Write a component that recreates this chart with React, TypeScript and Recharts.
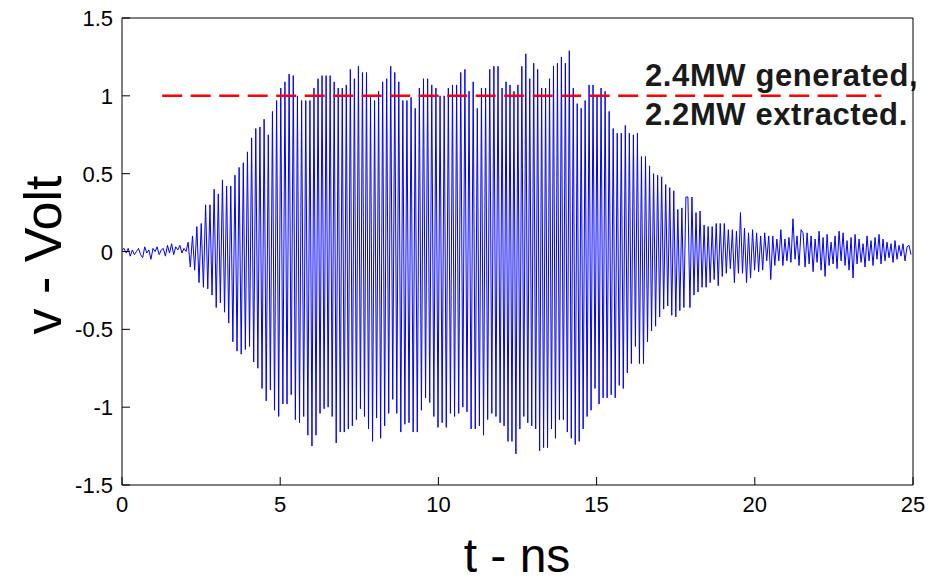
import React from 'react';
import { LineChart, Line, XAxis, YAxis } from 'recharts';

// sample values (volts), one array per stretch of time
const leadNoise = [
  0.01, 0.02, -0.01, 0.02, -0.03, 0.01, -0.02, 0.0, 0.02, -0.02, -0.04, 0.03, -0.01, 0.01, -0.05, 0.02,
  0.0, 0.03, -0.02, 0.01, 0.02, -0.03, 0.04, -0.01, 0.05, -0.02, 0.03, 0.01, 0.04, -0.01, 0.02, 0.0,
];
const onset = [0.06, -0.1, 0.1, -0.12, 0.16, -0.2, 0.18, -0.23, 0.3, -0.24];
const rise = [
  0.3, -0.28, 0.4, -0.36, 0.37, -0.33, 0.46, -0.39, 0.42, -0.46, 0.42, -0.58, 0.49, -0.64, 0.54, -0.66,
  0.57, -0.63, 0.64, -0.61, 0.73, -0.71, 0.79, -0.75, 0.8, -0.88, 0.85, -0.96, 0.75, -0.89, 0.9, -1.02,
  0.97, -1.06, 1.05, -0.98, 1.09, -0.98, 1.14, -0.92, 1.13, -1.08, 1.0, -1.1, 0.97, -1.06, 0.97, -1.18,
];
const plateauA = [
  0.97, -1.25, 1.05, -1.18, 1.11, -1.04, 1.13, -1.01, 1.13, -1.0, 1.13, -1.06, 1.09, -1.23, 1.05, -1.16,
  1.05, -1.16, 1.07, -1.14, 1.17, -1.12, 1.11, -1.08, 1.19, -1.01, 1.15, -1.06, 1.15, -1.14, 0.99, -1.22,
  0.97, -1.07, 1.03, -1.2, 1.09, -1.12, 1.11, -1.04, 1.19, -0.95, 1.15, -1.04, 1.09, -1.16, 0.97,
];
const plateauB = [
  -1.11, 0.97, -1.1, 0.99, -1.16, 0.92, -1.16, 1.05, -1.02, 1.11, -0.94, 1.11, -0.97, 1.07, -1.06, 1.05,
  -1.13, 1.0, -1.1, 1.0, -1.13, 1.05, -1.04, 1.07, -1.06, 1.07, -1.04, 1.15, -1.0, 1.17, -1.03, 1.03,
  -1.14, 1.09, -1.14, 0.92, -1.12, 1.05, -1.18, 1.05, -1.08, 1.17, -1.04, 1.19, -1.06, 1.19,
];
const plateauC = [
  -1.1, 1.05, -1.12, 1.09, -1.22, 1.07, -1.22, 1.03, -1.3, 1.07, -1.14, 1.19, -1.06, 1.27, -1.1, 1.11,
  -1.12, 1.21, -1.14, 1.17, -1.28, 1.05, -1.26, 1.05, -1.26, 1.11, -1.14, 1.19, -1.2, 1.21, -1.08, 1.25,
  -1.08, 1.21, -1.16, 1.29, -1.2, 1.05, -1.24, 0.95, -1.22, 0.92, -1.14, 0.97, -1.06, 1.07, -1.02, 1.07,
];
const decay = [
  -0.88, 1.0, -0.98, 1.05, -0.94, 1.03, -0.94, 0.9, -0.92, 0.79, -0.94, 0.76, -0.86, 0.76, -0.88, 0.81,
  -0.78, 0.76, -0.72, 0.75, -0.61, 0.76, -0.72, 0.61, -0.72, 0.61, -0.58, 0.55, -0.51, 0.5, -0.48, 0.49,
  -0.42, 0.48, -0.37, 0.43, -0.35, 0.41, -0.41, 0.39, -0.42, 0.27, -0.38, 0.28, -0.36, 0.35, 0.35,
];
const ringDown = [
  -0.36, 0.35, -0.28, 0.25, -0.26, 0.26, -0.23, 0.17, -0.23, 0.16, -0.2, 0.16, -0.18, 0.18, -0.22, 0.18,
  -0.16, 0.18, -0.14, 0.14, -0.11, 0.14, -0.2, 0.13, -0.14, 0.25, -0.14, 0.15, -0.2, 0.12, -0.17, 0.14,
  -0.12, 0.12, -0.13, 0.1, -0.12, 0.12, -0.06, 0.1, -0.18, 0.1, -0.09, 0.08, -0.06, 0.14, -0.09, 0.08,
  -0.06, 0.09, -0.07, 0.21, -0.05, 0.1, -0.09, 0.14, 0.12,
];
const tailNoise = [
  -0.1, 0.12, -0.08, 0.1, -0.13, 0.08, -0.07, 0.13, -0.12, 0.09, -0.16, 0.11, -0.09, 0.06, -0.08, 0.1,
  -0.11, 0.13, -0.06, 0.12, -0.09, 0.07, -0.12, 0.09, -0.17, 0.11, -0.08, 0.08, -0.07, 0.05, -0.1, 0.1,
  -0.06, 0.07, -0.09, 0.09, -0.05, 0.11, -0.08, 0.08, -0.06, 0.06, -0.04, 0.05, -0.07, 0.07, -0.05, 0.04,
  -0.03, 0.05, -0.06, 0.03, 0.04, -0.02,
];

// [start ns, end ns, samples]
const segments: [number, number, number[]][] = [
  [0, 2.09, leadNoise],
  [2.09, 2.78, onset],
  [2.78, 5.94, rise],
  [5.94, 8.94, plateauA],
  [8.94, 11.95, plateauB],
  [11.95, 14.95, plateauC],
  [14.95, 17.95, decay],
  [17.95, 21.59, ringDown],
  [21.59, 25, tailNoise],
];

const xTicks = [0, 5, 10, 15, 20, 25];
const yTicks = [-1.5, -1, -0.5, 0, 0.5, 1, 1.5];
const powerLine = [
  { t: 1.27, level: 1 },
  { t: 24.0, level: 1 },
];

const trace = segments.flatMap(([start, end, vals]) =>
  vals.map((v, i) => ({ t: start + ((end - start) * i) / vals.length, v }))
);

const FONT = '"Liberation Sans", Arial, sans-serif';
const TICK = 8;

const BottomTick = (props: any) => {
  const { x, y, payload } = props;
  return (
    <g>
      <line x1={x} y1={y} x2={x} y2={y - TICK} stroke="#000" />
      <text x={x} y={y + 27} textAnchor="middle" fontSize={22} fontFamily={FONT} fill="#000">
        {payload.value}
      </text>
    </g>
  );
};

const LeftTick = (props: any) => {
  const { x, y, payload } = props;
  return (
    <g>
      <line x1={x} y1={y} x2={x + TICK} y2={y} stroke="#000" />
      <text x={x - 9} y={y + 8} textAnchor="end" fontSize={22} fontFamily={FONT} fill="#000">
        {payload.value}
      </text>
    </g>
  );
};

const TopTick = (props: any) => {
  const { x, y } = props;
  return <line x1={x} y1={y} x2={x} y2={y + TICK} stroke="#000" />;
};

const RightTick = (props: any) => {
  const { x, y } = props;
  return <line x1={x} y1={y} x2={x - TICK} y2={y} stroke="#000" />;
};

export default function App() {
  return (
    <div style={{ position: 'absolute', left: 0, top: 0, width: 928, height: 585, background: '#fff' }}>
      <LineChart width={928} height={585} margin={{ top: 17, right: 14, bottom: 60, left: 62 }}>
        <XAxis
          xAxisId="b"
          dataKey="t"
          type="number"
          domain={[0, 25]}
          ticks={xTicks}
          height={40}
          tickSize={0}
          tickMargin={0}
          tickLine={false}
          stroke="#000"
          tick={<BottomTick />}
          allowDataOverflow
        />
        <XAxis
          xAxisId="top"
          orientation="top"
          dataKey="t"
          type="number"
          domain={[0, 25]}
          ticks={xTicks}
          height={1}
          tickSize={0}
          tickMargin={0}
          tickLine={false}
          stroke="#000"
          tick={<TopTick />}
        />
        <YAxis
          yAxisId="l"
          type="number"
          domain={[-1.5, 1.5]}
          ticks={yTicks}
          width={60}
          tickSize={0}
          tickMargin={0}
          tickLine={false}
          stroke="#000"
          tick={<LeftTick />}
          allowDataOverflow
        />
        <YAxis
          yAxisId="r"
          orientation="right"
          type="number"
          domain={[-1.5, 1.5]}
          ticks={yTicks}
          width={1}
          tickSize={0}
          tickMargin={0}
          tickLine={false}
          stroke="#000"
          tick={<RightTick />}
        />
        <Line
          xAxisId="b"
          yAxisId="l"
          data={trace}
          dataKey="v"
          type="linear"
          stroke="#0000ff"
          strokeWidth={1}
          dot={false}
          isAnimationActive={false}
        />
        <Line
          xAxisId="b"
          yAxisId="l"
          data={powerLine}
          dataKey="level"
          type="linear"
          stroke="#ff0000"
          strokeWidth={2.5}
          strokeDasharray="20 8.5"
          dot={false}
          isAnimationActive={false}
        />
        <text x={645} y={86} fontSize={31} letterSpacing={0.6} fontWeight="bold" fontFamily={FONT} fill="#1a1a1a">
          2.4MW generated,
        </text>
        <text x={645} y={125} fontSize={31} letterSpacing={0.6} fontWeight="bold" fontFamily={FONT} fill="#1a1a1a">
          2.2MW extracted.
        </text>
        <text x={517} y={572} textAnchor="middle" fontSize={48} fontFamily={FONT} fill="#000">
          t - ns
        </text>
        <text
          x={61}
          y={255}
          textAnchor="middle"
          fontSize={52}
          fontFamily={FONT}
          fill="#000"
          transform="rotate(-90, 61, 255)"
        >
          v - Volt
        </text>
      </LineChart>
    </div>
  );
}
